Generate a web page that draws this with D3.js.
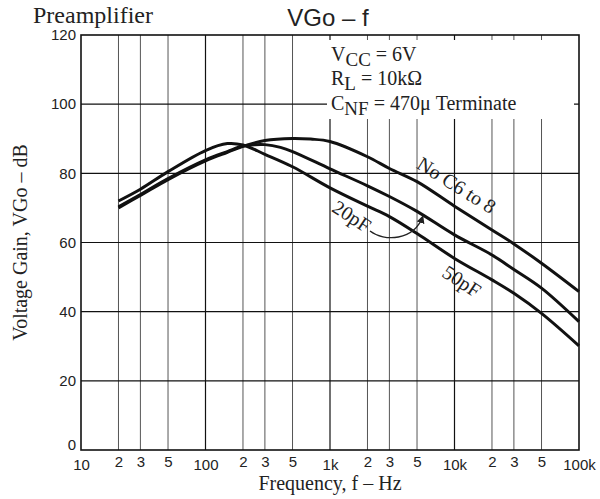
<!DOCTYPE html>
<html>
<head>
<meta charset="utf-8">
<script src="https://cdn.jsdelivr.net/npm/d3@7"></script>
<style>
  body { margin: 0; background: #fff; }
  svg { display: block; }
</style>
</head>
<body>
<div id="chart"></div>
<script>
// Frequency axis ticks (Hz) and gain ticks (dB)
var xTickValues = [10, 20, 30, 50, 100, 200, 300, 500, 1000, 2000, 3000, 5000, 10000, 20000, 30000, 50000, 100000];
var yTickValues = [0, 20, 40, 60, 80, 100, 120];

// Curve: No C6 to 8
var freqNoC = [20, 30, 50, 100, 150, 200, 300, 500, 700, 1000, 2000, 3000, 5000, 10000, 20000, 30000, 50000, 100000];
var gainNoC = [70.0, 73.6, 78.2, 83.6, 86.1, 87.8, 89.5, 90.1, 89.9, 89.2, 84.8, 81.4, 77.6, 70.5, 63.6, 59.6, 54.0, 45.8];

// Curve: 20pF
var freq20pF = [20, 30, 50, 100, 150, 200, 250, 300, 400, 500, 1000, 2000, 3000, 5000, 10000, 20000, 30000, 50000, 100000];
var gain20pF = [70.3, 73.9, 78.5, 83.9, 86.3, 87.9, 88.3, 88.3, 87.5, 86.3, 81.3, 76.4, 73.3, 69.0, 62.2, 56.4, 52.2, 46.8, 37.1];

// Curve: 50pF
var freq50pF = [20, 30, 50, 100, 150, 200, 300, 500, 1000, 2000, 3000, 5000, 10000, 20000, 30000, 50000, 100000];
var gain50pF = [72.0, 75.4, 80.5, 86.6, 88.6, 88.2, 85.5, 81.9, 75.8, 70.5, 67.5, 62.6, 55.4, 49.2, 45.3, 39.5, 30.1];

var width = 600, height = 499;
var margin = {top: 35, right: 21, bottom: 49, left: 81};
var sans = "'Liberation Sans', Arial, Helvetica, sans-serif",
    serif = "'Liberation Serif', 'Times New Roman', serif";

var svg = d3.select("#chart").append("svg")
    .attr("width", width)
    .attr("height", height);

var x = d3.scaleLog().domain([10, 100000]).range([margin.left, width - margin.right]);
var y = d3.scaleLinear().domain([0, 120]).range([height - margin.bottom, margin.top]);

function isDecade(v) {
    var l = Math.log10(v);
    return Math.abs(l - Math.round(l)) < 1e-9;
}
function fmtFreq(v) {
    if (isDecade(v)) {
        if (v >= 1000) return (v / 1000) + "k";
        return String(v);
    }
    return String(Math.round(v / Math.pow(10, Math.floor(Math.log10(v)))));
}

//Grid
var grid = svg.append("g").attr("class", "grid");
grid.selectAll("line.v")
    .data(xTickValues.slice(1, -1))
    .enter().append("line")
    .attr("class", "v")
    .attr("x1", function (d) { return x(d); })
    .attr("x2", function (d) { return x(d); })
    .attr("y1", y(0))
    .attr("y2", y(120))
    .attr("stroke", function (d) { return isDecade(d) ? "#111" : "#555"; })
    .attr("stroke-width", function (d) { return isDecade(d) ? 1.2 : 1; });
grid.selectAll("line.h")
    .data(yTickValues.slice(1, -1))
    .enter().append("line")
    .attr("class", "h")
    .attr("x1", x(10))
    .attr("x2", x(100000))
    .attr("y1", function (d) { return y(d); })
    .attr("y2", function (d) { return y(d); })
    .attr("stroke", "#111")
    .attr("stroke-width", 1.1);

//Legend background hides the grid
svg.append("rect")
    .attr("x", 327).attr("y", 40)
    .attr("width", 247).attr("height", 79)
    .attr("fill", "#fff");

//Frame
svg.append("rect")
    .attr("x", x(10)).attr("y", y(120))
    .attr("width", x(100000) - x(10))
    .attr("height", y(0) - y(120))
    .attr("fill", "none")
    .attr("stroke", "#111")
    .attr("stroke-width", 1.6);

//Curves
var series = [
    {name: "No C6 to 8", f: freqNoC, g: gainNoC},
    {name: "20pF", f: freq20pF, g: gain20pF},
    {name: "50pF", f: freq50pF, g: gain50pF}
];
var line = d3.line()
    .x(function (d) { return x(d[0]); })
    .y(function (d) { return y(d[1]); })
    .curve(d3.curveCatmullRom.alpha(0.5));

svg.append("g").selectAll("path")
    .data(series)
    .enter().append("path")
    .attr("d", function (s) { return line(d3.zip(s.f, s.g)); })
    .attr("fill", "none")
    .attr("stroke", "#111")
    .attr("stroke-width", 3);

//Axes
var yAxis = svg.append("g")
    .attr("transform", "translate(" + x(10) + ",0)")
    .call(d3.axisLeft(y).tickValues(yTickValues).tickSize(0).tickPadding(5));
yAxis.select(".domain").remove();
yAxis.selectAll("text")
    .attr("font-family", sans)
    .attr("font-size", 15)
    .attr("fill", "#222")
    .attr("dy", function (d) { return d === 0 ? "-0.05em" : "0.32em"; });

var xAxis = svg.append("g")
    .attr("transform", "translate(0," + y(0) + ")")
    .call(d3.axisBottom(x).tickValues(xTickValues).tickFormat(fmtFreq).tickSize(0));
xAxis.select(".domain").remove();
xAxis.selectAll("text")
    .attr("font-family", sans)
    .attr("font-size", 15)
    .attr("fill", "#222")
    .attr("dy", null)
    .attr("y", function (d) { return isDecade(d) ? 20 : 17; });

//Titles
svg.append("text")
    .attr("x", 33).attr("y", 23)
    .attr("font-family", serif).attr("font-size", 24).attr("fill", "#222")
    .text("Preamplifier");
svg.append("text")
    .attr("x", (x(10) + x(100000)) / 2 - 2).attr("y", 26)
    .attr("text-anchor", "middle")
    .attr("font-family", sans).attr("font-size", 24).attr("fill", "#222")
    .text("VGo \u2013 f");
svg.append("text")
    .attr("x", (x(10) + x(100000)) / 2).attr("y", 490)
    .attr("text-anchor", "middle")
    .attr("font-family", serif).attr("font-size", 20).attr("fill", "#222")
    .text("Frequency, f \u2013 Hz");
svg.append("text")
    .attr("transform", "translate(27," + ((y(0) + y(120)) / 2) + ") rotate(-90)")
    .attr("text-anchor", "middle")
    .attr("font-family", serif).attr("font-size", 20).attr("fill", "#222")
    .text("Voltage Gain, VGo \u2013 dB");

//Conditions
var conds = [
    {main: "V", sub: "CC", rest: " = 6V", y: 61},
    {main: "R", sub: "L", rest: " = 10k\u03a9", y: 85},
    {main: "C", sub: "NF", rest: " = 470\u03bc Terminate", y: 110}
];
conds.forEach(function (c) {
    var t = svg.append("text")
        .attr("x", 331).attr("y", c.y)
        .attr("font-family", serif).attr("font-size", 20).attr("fill", "#222");
    t.append("tspan").text(c.main);
    t.append("tspan").attr("dy", 5).attr("font-size", 19).text(c.sub);
    t.append("tspan").attr("dy", -5).text(c.rest);
});

//Curve labels
var labels = [
    {text: "No C6 to 8", x: 453, y: 191, a: 32},
    {text: "20pF", x: 348, y: 222, a: 33},
    {text: "50pF", x: 458, y: 287, a: 33}
];
svg.selectAll("text.clabel")
    .data(labels)
    .enter().append("text")
    .attr("class", "clabel")
    .attr("transform", function (d) { return "translate(" + d.x + "," + d.y + ") rotate(" + d.a + ")"; })
    .attr("text-anchor", "middle")
    .attr("font-family", serif).attr("font-size", 20).attr("fill", "#222")
    .text(function (d) { return d.text; });

//Leader arrow for 20pF
svg.append("defs").append("marker")
    .attr("id", "arrow")
    .attr("viewBox", "0 0 10 10")
    .attr("refX", 9).attr("refY", 5)
    .attr("markerWidth", 8).attr("markerHeight", 8)
    .attr("markerUnits", "userSpaceOnUse")
    .attr("orient", "auto")
    .append("path")
    .attr("d", "M0,0L10,5L0,10z")
    .attr("fill", "#222");
svg.append("path")
    .attr("d", "M370,231C384,242 414,241 423,216")
    .attr("fill", "none")
    .attr("stroke", "#222")
    .attr("stroke-width", 1.3)
    .attr("marker-end", "url(#arrow)");
</script>
</body>
</html>
